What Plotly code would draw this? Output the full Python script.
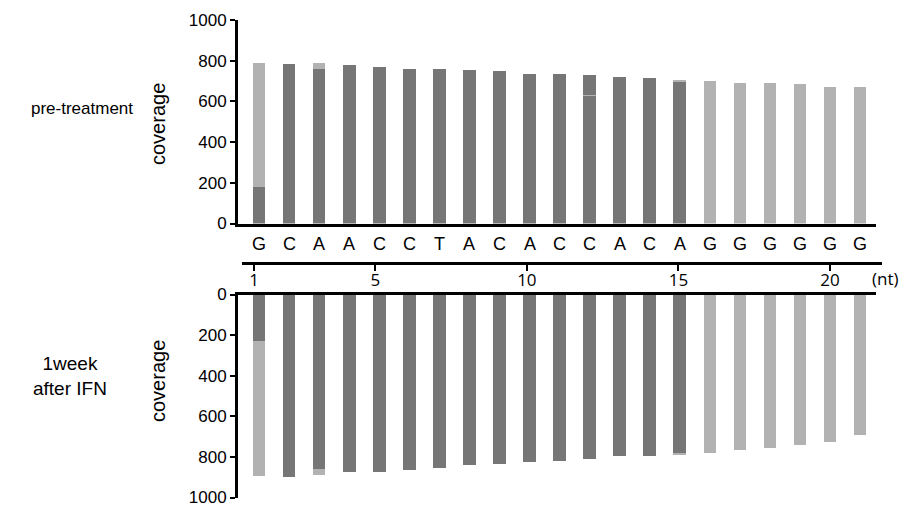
import plotly.graph_objects as go

# ---- data ----
POSITIONS = list(range(1, 22))
SEQUENCE = ["G", "C", "A", "A", "C", "C", "T", "A", "C", "A", "C",
            "C", "A", "C", "A", "G", "G", "G", "G", "G", "G"]

# pre-treatment coverage split by read-base (dark = major, light = G)
PRE_DARK_LOW = [179, 784, 759, 779, 770, 761, 758, 753, 749, 735, 735,
                628, 718, 713, 699, 0, 0, 0, 0, 0, 0]
PRE_LIGHT = [608, 0, 28, 0, 0, 0, 0, 0, 0, 0, 0,
             4, 0, 0, 6, 702, 690, 688, 685, 671, 671]
PRE_DARK_UP = [0, 0, 0, 0, 0, 0, 0, 0, 0, 0, 0,
               98, 0, 0, 0, 0, 0, 0, 0, 0, 0]

# 1 week after IFN
POST_DARK = [229, 897, 855, 874, 870, 861, 853, 837, 832, 825, 819,
             809, 791, 791, 783, 0, 0, 0, 0, 0, 0]
POST_LIGHT = [662, 0, 31, 0, 0, 0, 0, 0, 0, 0, 0,
              0, 0, 0, 6, 780, 763, 752, 739, 724, 690]

Y_TICKS = [0, 200, 400, 600, 800, 1000]
NT_TICKS = [1, 5, 10, 15, 20]

DARK = "#767676"
LIGHT = "#b2b2b2"
FONT = "Liberation Sans, Arial, sans-serif"
W, H = 902, 506
BAR_W = 0.42

fig = go.Figure()

for vals, col in [(PRE_DARK_LOW, DARK), (PRE_LIGHT, LIGHT), (PRE_DARK_UP, DARK)]:
    fig.add_trace(go.Bar(x=POSITIONS, y=vals, width=BAR_W, marker=dict(color=col, line=dict(width=0)),
                         xaxis="x", yaxis="y", showlegend=False))
for vals, col in [(POST_DARK, DARK), (POST_LIGHT, LIGHT)]:
    fig.add_trace(go.Bar(x=POSITIONS, y=vals, width=BAR_W, marker=dict(color=col, line=dict(width=0)),
                         xaxis="x2", yaxis="y2", showlegend=False))
# carrier for the nucleotide-position axis
fig.add_trace(go.Scatter(x=[NT_TICKS[0]], y=[0], mode="markers", marker=dict(opacity=0),
                         xaxis="x3", yaxis="y3", showlegend=False, hoverinfo="skip"))

def px_x(p):
    return p / W

def px_y(p):
    return 1 - p / H

XDOM = [px_x(238), px_x(876)]
XRANGE = [0.30, 21.53]

yax_common = dict(
    tickvals=Y_TICKS, ticks="outside", ticklen=5, tickwidth=2, tickcolor="black",
    showline=True, linewidth=3, linecolor="black", showgrid=False, zeroline=False,
    tickfont=dict(family=FONT, size=17, color="black"), automargin=False,
    ticklabeloverflow="allow",
)

fig.update_layout(
    width=W, height=H, margin=dict(l=0, r=0, t=0, b=0, autoexpand=False),
    paper_bgcolor="white", plot_bgcolor="white",
    barmode="stack", bargap=0,
    font=dict(family=FONT, color="black"),
    xaxis=dict(domain=XDOM, range=XRANGE, anchor="y", showline=True, linewidth=3,
               linecolor="black", showticklabels=False, ticks="", showgrid=False, zeroline=False),
    yaxis=dict(domain=[px_y(223.5), px_y(20)], range=[0, 1000], anchor="x", **yax_common),
    xaxis2=dict(domain=XDOM, range=XRANGE, anchor="y2", side="top", showline=True, linewidth=3,
                linecolor="black", showticklabels=False, ticks="", showgrid=False, zeroline=False),
    yaxis2=dict(domain=[px_y(497.5), px_y(294.5)], range=[1000, 0], anchor="x2", **yax_common),
    xaxis3=dict(domain=[px_x(242), px_x(882)], range=[0.604, 21.715], anchor="y3",
                showline=True, linewidth=2.5, linecolor="black", tickvals=NT_TICKS,
                ticks="outside", ticklen=6, tickwidth=2, tickcolor="black",
                tickfont=dict(family="Open Sans, sans-serif", size=17, color="black"),
                ticklabelstandoff=-5,
                showgrid=False, zeroline=False, automargin=False),
    yaxis3=dict(domain=[px_y(262), px_y(255)], visible=False, anchor="x3"),
)

def label(x, y, text, size, xref="paper", angle=0, family=FONT):
    return dict(x=x, y=y, xref=xref, yref="paper", text=text, showarrow=False,
                xanchor="center", yanchor="middle", align="center", textangle=angle,
                font=dict(family=family, size=size, color="black"))

ann = [label(pos, px_y(244), base, 18, xref="x") for pos, base in zip(POSITIONS, SEQUENCE)]
ann.append(label(px_x(885), px_y(278), "(nt)", 17, family="Open Sans, sans-serif"))
ann.append(label(px_x(82), px_y(109), "pre-treatment", 17))
ann.append(label(px_x(70), px_y(376), "1week<br>after IFN", 19))
ann.append(label(px_x(158), px_y(124), "coverage", 20, angle=-90))
ann.append(label(px_x(158), px_y(381), "coverage", 20, angle=-90))
fig.update_layout(annotations=ann)

fig.write_html("out.html", config={"displayModeBar": False},
               post_script="document.body.style.margin='0';")
